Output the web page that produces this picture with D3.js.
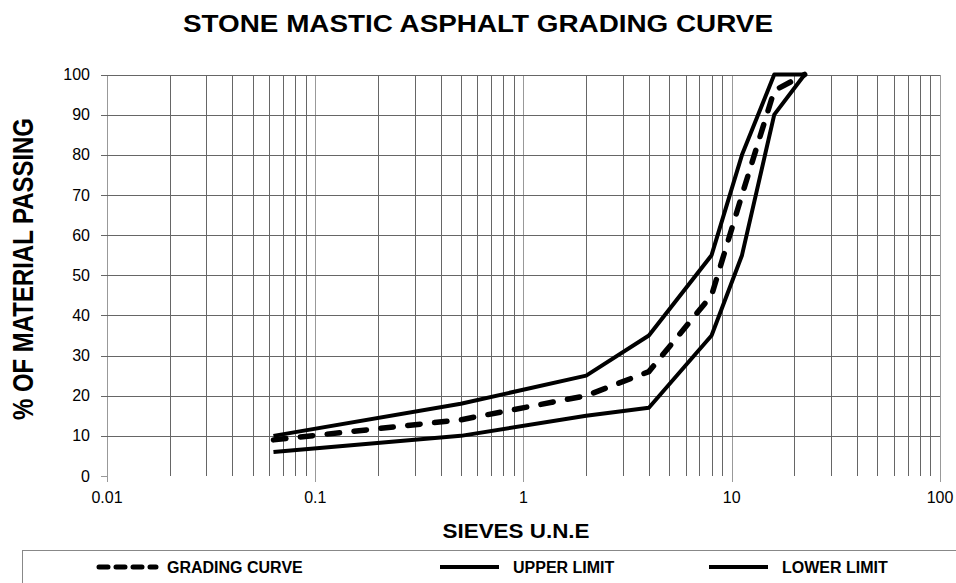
<!DOCTYPE html>
<html>
<head>
<meta charset="utf-8">
<script src="https://cdn.jsdelivr.net/npm/d3@7"></script>
<style>
  body { margin: 0; background: #fff; }
  svg { display: block; }
  text { font-family: "Liberation Sans", Arial, sans-serif; fill: #000; }
</style>
</head>
<body>
<div id="chart"></div>
<script>
// sieve sizes (mm) and % passing
const sieves = [0.063, 0.5, 2, 4, 8, 11.2, 16, 22.4];
const gradingCurve = [9, 14, 20, 26, 45, 70, 96, 100];
const upperLimit = [10, 18, 25, 35, 55, 80, 100, 100];
const lowerLimit = [6, 10, 15, 17, 35, 55, 90, 100];
const yTicks = [0, 10, 20, 30, 40, 50, 60, 70, 80, 90, 100];
const xMajor = [0.01, 0.1, 1, 10, 100];

const W = 956, H = 583;
const m = { left: 107, right: 16, top: 74.5, bottom: 107 };

const svg = d3.select('#chart').append('svg')
    .attr('width', W).attr('height', H);

const x = d3.scaleLog().domain([0.01, 100]).range([m.left, W - m.right]);
const y = d3.scaleLinear().domain([0, 100]).range([H - m.bottom, m.top]);

// all log grid values (1..9 per decade)
const xGrid = [];
for (let e = -2; e < 2; e++) {
    for (let k = 1; k < 10; k++) xGrid.push(k * Math.pow(10, e));
}
xGrid.push(100);

const grid = svg.append('g').attr('shape-rendering', 'crispEdges');
grid.selectAll('line.v')
    .data(xGrid)
    .enter().append('line')
    .attr('x1', d => Math.round(x(d)) + 0.5).attr('x2', d => Math.round(x(d)) + 0.5)
    .attr('y1', y(100)).attr('y2', d => xMajor.includes(d) ? y(0) + 6 : y(0))
    .style('stroke', d => xMajor.includes(d) ? '#999' : '#666')
    .style('stroke-width', 1);

grid.selectAll('line.h')
    .data(yTicks.filter(d => d > 0))
    .enter().append('line')
    .attr('x1', x(0.01) - 6).attr('x2', x(100))
    .attr('y1', d => Math.round(y(d)) + 0.5).attr('y2', d => Math.round(y(d)) + 0.5)
    .style('stroke', '#666')
    .style('stroke-width', 1);

grid.append('line')
    .attr('x1', x(0.01) - 6).attr('x2', x(0.01))
    .attr('y1', Math.round(y(0)) + 0.5).attr('y2', Math.round(y(0)) + 0.5)
    .style('stroke', '#999');

// tick labels
svg.append('g').selectAll('text')
    .data(yTicks)
    .enter().append('text')
    .attr('x', x(0.01) - 17)
    .attr('y', d => y(d))
    .attr('dy', '0.35em')
    .attr('text-anchor', 'end')
    .style('font-size', '16px')
    .text(d => d);

svg.append('g').selectAll('text')
    .data(xMajor)
    .enter().append('text')
    .attr('x', d => x(d))
    .attr('y', y(0) + 27)
    .attr('text-anchor', 'middle')
    .style('font-size', '16px')
    .text(d => d);

// series
const line = vals => d3.line()
    .x((d, i) => x(sieves[i]))
    .y(d => y(d))(vals);

svg.append('path')
    .attr('d', line(upperLimit))
    .style('fill', 'none').style('stroke', '#000')
    .style('stroke-width', 4).style('stroke-linejoin', 'round');

svg.append('path')
    .attr('d', line(lowerLimit))
    .style('fill', 'none').style('stroke', '#000')
    .style('stroke-width', 4).style('stroke-linejoin', 'round');

svg.append('path')
    .attr('d', line(gradingCurve))
    .style('fill', 'none').style('stroke', '#000')
    .style('stroke-width', 5.5)
    .style('stroke-linecap', 'round')
    .style('stroke-dasharray', '12.5,14.5');

// titles
svg.append('text')
    .attr('x', 478).attr('y', 32)
    .attr('text-anchor', 'middle')
    .attr('textLength', 590).attr('lengthAdjust', 'spacingAndGlyphs')
    .style('font-size', '24px').style('font-weight', 'bold')
    .text('STONE MASTIC ASPHALT GRADING CURVE');

svg.append('text')
    .attr('x', 516).attr('y', 538)
    .attr('text-anchor', 'middle')
    .attr('textLength', 147).attr('lengthAdjust', 'spacingAndGlyphs')
    .style('font-size', '20px').style('font-weight', 'bold')
    .text('SIEVES U.N.E');

svg.append('text')
    .attr('transform', 'translate(33,269) scale(1.2,1) rotate(-90)')
    .attr('text-anchor', 'middle')
    .attr('textLength', 302).attr('lengthAdjust', 'spacingAndGlyphs')
    .style('font-size', '24px').style('font-weight', 'bold')
    .text('% OF MATERIAL PASSING');

// legend
svg.append('rect')
    .attr('x', 22.5).attr('y', 550.5)
    .attr('width', 960).attr('height', 60)
    .style('fill', 'none').style('stroke', '#888');

const legendItems = [
    { label: 'GRADING CURVE', x: 97, dash: true },
    { label: 'UPPER LIMIT', x: 440, dash: false },
    { label: 'LOWER LIMIT', x: 709, dash: false }
];
const lg = svg.append('g').selectAll('g')
    .data(legendItems)
    .enter().append('g')
    .attr('transform', d => `translate(${d.x},567)`);

lg.append('line')
    .attr('x1', d => d.dash ? 2 : 0).attr('x2', 59)
    .attr('y1', 0).attr('y2', 0)
    .style('stroke', '#000')
    .style('stroke-width', d => d.dash ? 5 : 4)
    .style('stroke-linecap', d => d.dash ? 'round' : 'butt')
    .style('stroke-dasharray', d => d.dash ? '9,8' : null);

lg.append('text')
    .attr('x', d => d.dash ? 70 : 73)
    .attr('y', 6)
    .style('font-family', '"Liberation Sans Narrow", "Arial Narrow", sans-serif')
    .style('font-size', '16px').style('font-weight', 'bold')
    .text(d => d.label);
</script>
</body>
</html>
